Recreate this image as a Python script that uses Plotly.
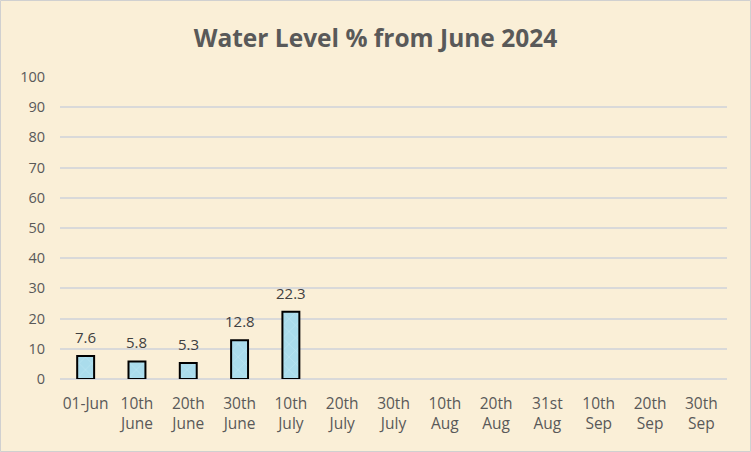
import plotly.graph_objects as go

categories = ["01-Jun", "10th<br>June", "20th<br>June", "30th<br>June", "10th<br>July",
              "20th<br>July", "30th<br>July", "10th<br>Aug", "20th<br>Aug", "31st<br>Aug",
              "10th<br>Sep", "20th<br>Sep", "30th<br>Sep"]
values = [7.6, 5.8, 5.3, 12.8, 22.3, None, None, None, None, None, None, None, None]
y_ticks = list(range(0, 101, 10))

fig = go.Figure(go.Bar(
    x=categories, y=values,
    marker=dict(color="#aadcec", line=dict(color="#000000", width=2),
                pattern=dict(shape="x", fgcolor="#c9edf6", size=9, solidity=0.15)),
))

annotations = [dict(x=c, y=v, text=f"{v}", showarrow=False, yanchor="bottom", yshift=7,
                    font=dict(size=15, color="#404040", family="Open Sans"))
               for c, v in zip(categories, values) if v is not None]

bg = "#faefd7"
pw = 751 - 60 - 24
ph = 452 - 77 - 73
fig.update_layout(
    width=751, height=452,
    margin=dict(l=60, r=24, t=77, b=73),
    paper_bgcolor=bg, plot_bgcolor=bg,
    bargap=0.67,
    showlegend=False,
    annotations=annotations,
    title=dict(text="<b>Water Level % from June 2024</b>", x=0.5, xanchor="center",
               y=1 - 38 / 452, yanchor="middle",
               font=dict(size=24.5, color="#595959", family="Open Sans")),
    font=dict(family="Open Sans", color="#595959", size=14),
    xaxis=dict(tickfont=dict(size=15.5, color="#595959"), showgrid=False, showline=False,
               ticks="", fixedrange=True, ticklabelstandoff=13),
    yaxis=dict(range=[0, 100], tickvals=y_ticks, tickfont=dict(size=14.5, color="#595959"),
               gridcolor="#d9d9d9", gridwidth=1.5, zeroline=True, zerolinecolor="#d9d9d9",
               zerolinewidth=1.5, showline=False, ticks="", ticklabelstandoff=14),
    shapes=[dict(type="rect", xref="paper", yref="paper",
                 x0=-59.5 / pw, x1=1 + 23.5 / pw, y0=-72.5 / ph, y1=1 + 76.5 / ph,
                 line=dict(color="#d0d0d0", width=1), fillcolor="rgba(0,0,0,0)")],
)

fig.write_html("out.html")
